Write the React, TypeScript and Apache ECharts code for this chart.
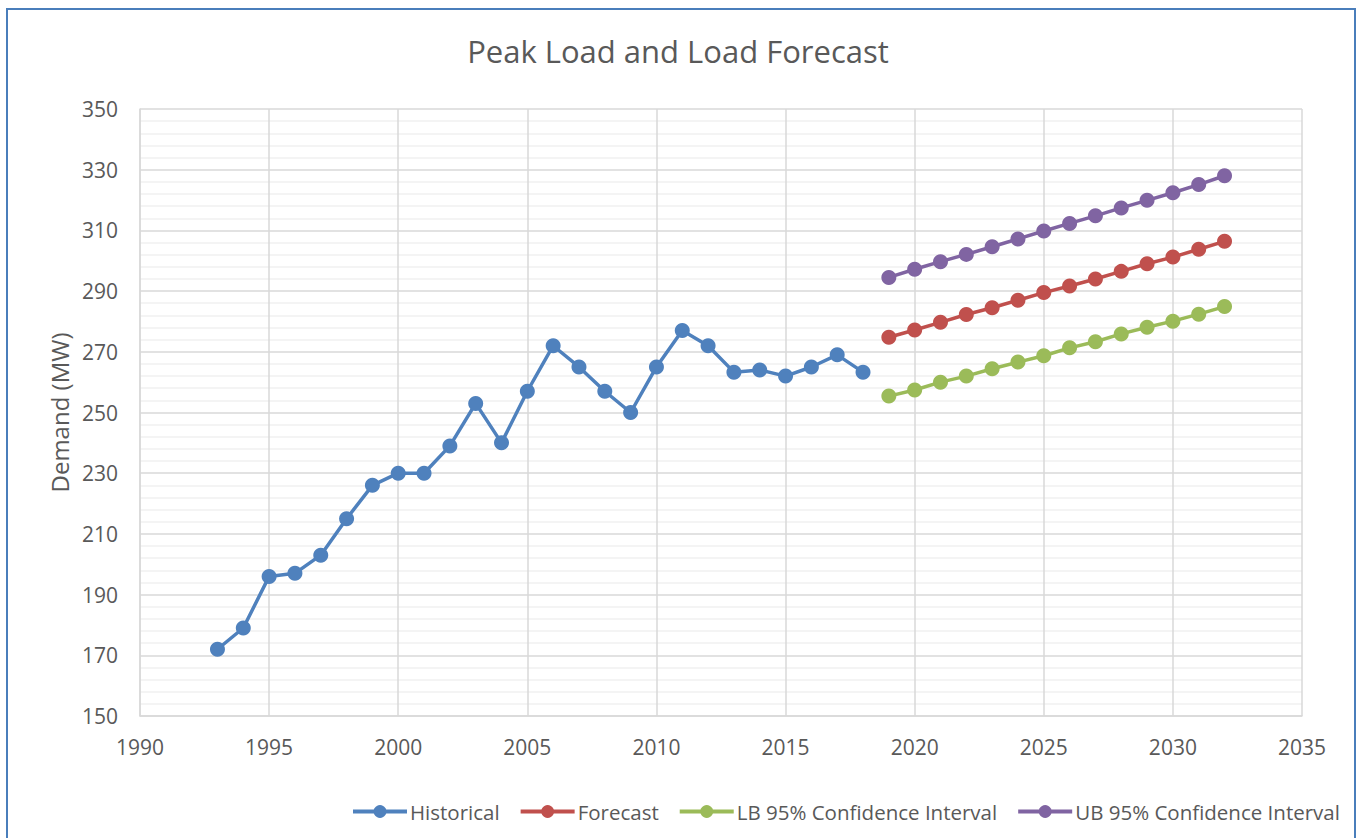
import React, { useEffect, useRef } from "react";
import * as echarts from "echarts";

const histYears = [1993, 1994, 1995, 1996, 1997, 1998, 1999, 2000, 2001, 2002, 2003, 2004, 2005, 2006, 2007, 2008, 2009, 2010, 2011, 2012, 2013, 2014, 2015, 2016, 2017, 2018];
const histValues = [172, 179, 196, 197, 203, 215, 226, 230, 230, 239, 253, 240, 257, 272, 265, 257, 250, 265, 277, 272, 263.3, 264, 262, 265, 269, 263.3];

const fcYears = [2019, 2020, 2021, 2022, 2023, 2024, 2025, 2026, 2027, 2028, 2029, 2030, 2031, 2032];
const forecastValues = [274.8, 277.2, 279.7, 282.3, 284.5, 287.0, 289.5, 291.7, 294.0, 296.5, 299.0, 301.2, 303.8, 306.4];
const lbValues = [255.4, 257.4, 260.0, 262.0, 264.4, 266.6, 268.7, 271.3, 273.3, 275.9, 278.1, 280.1, 282.4, 284.9];
const ubValues = [294.5, 297.2, 299.7, 302.1, 304.6, 307.2, 309.8, 312.3, 314.8, 317.4, 319.9, 322.4, 325.1, 328.0];

const seriesNames = ["Historical", "Forecast", "LB 95% Confidence Interval", "UB 95% Confidence Interval"];
const colors = ["#4f81bd", "#c0504d", "#9bbb59", "#8064a2"];

const FONT = "'Open Sans', 'Noto Sans', sans-serif";

export default function App() {
  const ref = useRef<HTMLDivElement>(null);
  useEffect(() => {
    if (!ref.current) return;
    const chart = echarts.init(ref.current, undefined, { renderer: "svg" });
    const pair = (xs: number[], ys: number[]) => xs.map((x, i) => [x, ys[i]]);
    const datasets = [
      pair(histYears, histValues),
      pair(fcYears, forecastValues),
      pair(fcYears, lbValues),
      pair(fcYears, ubValues),
    ];
    chart.setOption({
      animation: false,
      backgroundColor: "#ffffff",
      color: colors,
      textStyle: { fontFamily: FONT },
      title: {
        text: "Peak Load and Load Forecast",
        left: "center",
        top: 30,
        textStyle: { fontFamily: FONT, fontSize: 31, fontWeight: "normal", color: "#595959" },
      },
      graphic: [
        {
          type: "rect",
          shape: { x: 7, y: 9, width: 1348, height: 900 },
          style: { fill: "none", stroke: "#4a7ebb", lineWidth: 2 },
          silent: true,
        },
      ],
      legend: {
        bottom: 11,
        left: 346,
        itemWidth: 54,
        itemHeight: 16,
        itemGap: 19,
        lineStyle: { width: 4 },
        textStyle: { fontFamily: FONT, fontSize: 20.5, color: "#595959", padding: [0, 0, 0, -2] },
        data: seriesNames,
      },
      grid: { left: 140, right: 54, top: 109, bottom: 122, containLabel: false },
      xAxis: {
        type: "value",
        min: 1990,
        max: 2035,
        interval: 5,
        axisLine: { show: true, lineStyle: { color: "#d9d9d9", width: 1.5 } },
        axisTick: { show: false },
        axisLabel: { fontFamily: FONT, fontSize: 21, color: "#595959", margin: 20, formatter: (v: number) => String(v) },
        splitLine: { show: true, lineStyle: { color: "#d9d9d9", width: 1.5 } },
      },
      yAxis: {
        type: "value",
        min: 150,
        max: 350,
        interval: 20,
        name: "Demand (MW)",
        nameLocation: "middle",
        nameGap: 66,
        nameTextStyle: { fontFamily: FONT, fontSize: 24, color: "#595959" },
        axisLine: { show: true, lineStyle: { color: "#d9d9d9", width: 1.5 } },
        axisTick: { show: false },
        axisLabel: { fontFamily: FONT, fontSize: 21, color: "#595959", margin: 22 },
        splitLine: { show: true, lineStyle: { color: "#d9d9d9", width: 1.5 } },
        minorTick: { show: false, splitNumber: 5 },
        minorSplitLine: { show: true, lineStyle: { color: "#f0f0f0", width: 1.5 } },
      },
      series: datasets.map((d, i) => ({
        name: seriesNames[i],
        type: "line",
        data: d,
        symbol: "circle",
        symbolSize: 15,
        lineStyle: { width: 3.5, color: colors[i] },
        itemStyle: { color: colors[i] },
      })),
    });
    return () => chart.dispose();
  }, []);
  return (
    <div
      ref={ref}
      style={{ position: "fixed", left: 0, top: 0, width: 1356, height: 838, background: "#fff" }}
    />
  );
}
